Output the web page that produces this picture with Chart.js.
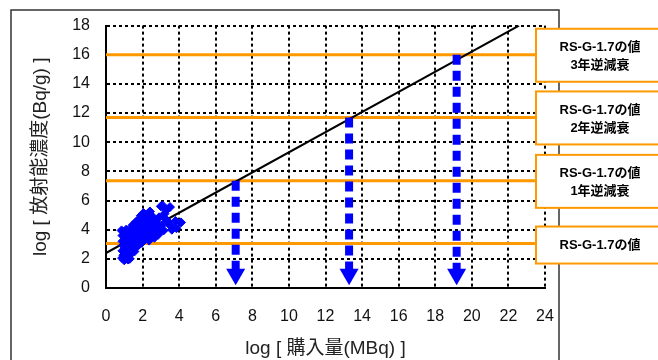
<!DOCTYPE html>
<html>
<head>
<meta charset="utf-8">
<script src="https://cdn.jsdelivr.net/npm/chart.js@4.4.1/dist/chart.umd.min.js"></script>
<style>
  html, body { margin: 0; padding: 0; background: #fff; }
</style>
</head>
<body>
<canvas id="c" width="658" height="360"></canvas>
<script>
// Axis ticks
const xTickValues = [0, 2, 4, 6, 8, 10, 12, 14, 16, 18, 20, 22, 24];
const yTickValues = [0, 2, 4, 6, 8, 10, 12, 14, 16, 18];

// Measured samples: log purchase amount vs log concentration
const sampleX = [0.85,0.9,0.9,0.95,0.9,0.95,1.0,0.88,1.05,1.0,
  1.1,1.15,1.2,1.25,1.3,1.3,1.35,1.4,1.4,1.45,
  1.5,1.5,1.55,1.6,1.6,1.65,1.7,1.7,1.75,1.8,
  1.8,1.85,1.9,1.9,1.95,2.0,2.0,2.05,2.05,2.1,
  2.1,2.15,2.2,2.2,2.25,2.3,2.3,2.35,2.4,2.4,
  2.45,2.5,2.55,2.6,2.6,2.7,2.75,2.8,2.85,2.9,
  3.0,3.05,3.1,3.15,3.2,3.3,3.4,3.5,3.5,3.6,
  3.8,3.85,4.1,1.55,1.25,1.1,1.45,1.75,2.25,1.95,
  1.65,1.35,1.05,1.2,2.65,2.35,2.5,1.85,2.95,3.25];
const sampleY = [3.95,3.6,3.2,2.9,2.55,2.25,1.9,2.05,3.4,3.0,
  2.7,3.8,3.3,2.2,2.0,3.0,3.55,4.1,2.45,3.25,
  3.9,2.8,4.35,3.55,3.05,4.55,4.0,3.3,2.9,4.7,
  3.75,4.25,3.45,4.95,3.1,4.5,4.05,3.65,5.15,3.35,
  4.75,4.3,3.9,5.0,3.55,4.55,4.15,3.25,5.25,3.8,
  4.4,4.0,3.6,4.7,4.25,3.85,4.5,4.1,3.65,4.85,
  5.6,4.3,5.65,3.95,5.1,5.35,4.55,5.55,4.3,4.0,
  4.6,4.1,4.5,2.5,3.6,4.0,4.3,4.45,4.85,3.8,
  3.75,2.75,2.45,1.95,3.45,4.35,4.95,3.2,4.0,4.75];

// Regression line end points
const fitX = [0, 22.58];
const fitY = [2.4, 18];

// RS-G-1.7 reference levels (with back-decay for 1, 2, 3 years)
const levelValues = [3.05, 7.35, 11.7, 16.0];
const levelLabels = [
  ['RS-G-1.7の値'],
  ['RS-G-1.7の値', '1年逆減衰'],
  ['RS-G-1.7の値', '2年逆減衰'],
  ['RS-G-1.7の値', '3年逆減衰']
];
const levelLineEnd = 23.5;

// Purchase amounts where the fit line meets the decayed levels
const arrowX = [7.09, 13.29, 19.17];
const arrowTop = [7.35, 11.7, 16.0];
const arrowTip = 0.95;

const BLUE = '#0000ff';
const ORANGE = '#ff9900';
const FONT = "'Liberation Sans', Arial, 'Noto Sans CJK JP', sans-serif";

const datasets = [];

levelValues.forEach(v => {
  datasets.push({
    data: [{x: 0, y: v}, {x: levelLineEnd, y: v}],
    showLine: true, borderColor: ORANGE, borderWidth: 3,
    pointRadius: 0, order: 4
  });
});

datasets.push({
  data: fitX.map((x, i) => ({x, y: fitY[i]})),
  showLine: true, borderColor: '#000', borderWidth: 2,
  pointRadius: 0, order: 3
});

arrowX.forEach((x, i) => {
  datasets.push({
    data: [{x, y: arrowTop[i]}, {x, y: arrowTip}],
    showLine: true, borderColor: BLUE, borderWidth: 8,
    borderDash: [10, 6], borderCapStyle: 'butt',
    pointStyle: 'triangle', rotation: 180,
    pointRadius: [0, 11], pointBorderWidth: 0,
    pointBackgroundColor: BLUE, order: 2
  });
});

datasets.push({
  data: sampleX.map((x, i) => ({x, y: sampleY[i]})),
  showLine: false, pointStyle: 'rectRot', pointRadius: 4.5,
  pointBackgroundColor: BLUE, pointBorderColor: BLUE, pointBorderWidth: 1,
  order: 1
});

// White page and the outer frame around the plot
const framePlugin = {
  id: 'frame',
  beforeDraw(chart) {
    const ctx = chart.ctx;
    ctx.save();
    ctx.fillStyle = '#fff';
    ctx.fillRect(0, 0, chart.width, chart.height);
    ctx.strokeStyle = '#333';
    ctx.lineWidth = 1.5;
    ctx.strokeRect(11, 10, 548, 380);
    ctx.restore();
  }
};

// Label boxes at the right end of each reference level
const levelBoxPlugin = {
  id: 'levelBoxes',
  afterDraw(chart) {
    const ctx = chart.ctx;
    const y = chart.scales.y;
    ctx.save();
    levelValues.forEach((v, i) => {
      const yl = y.getPixelForValue(v);
      const lines = levelLabels[i];
      const two = lines.length > 1;
      const top = two ? yl - 26 : yl - 17;
      const h = two ? 53 : 37;
      ctx.fillStyle = '#fff';
      ctx.fillRect(536, top, 140, h);
      ctx.strokeStyle = ORANGE;
      ctx.lineWidth = 2;
      ctx.strokeRect(536, top, 140, h);
      ctx.fillStyle = '#000';
      ctx.font = "bold 13px " + FONT;
      ctx.textAlign = 'center';
      ctx.textBaseline = 'middle';
      if (two) {
        ctx.fillText(lines[0], 600, yl - 7);
        ctx.fillText(lines[1], 600, yl + 10.5);
      } else {
        ctx.fillText(lines[0], 600, yl + 2);
      }
    });
    ctx.restore();
  }
};

new Chart(document.getElementById('c'), {
  type: 'scatter',
  data: { datasets },
  plugins: [framePlugin, levelBoxPlugin],
  options: {
    responsive: false,
    animation: false,
    layout: { padding: { left: 0, top: 24, right: 113, bottom: 0 } },
    plugins: { legend: { display: false }, tooltip: { enabled: false } },
    scales: {
      x: {
        type: 'linear', min: 0, max: 24,
        afterBuildTicks: s => { s.ticks = xTickValues.map(v => ({ value: v })); },
        afterFit: s => { s.height = 72; },
        ticks: { font: { family: FONT, size: 16 }, color: '#111', padding: 19 },
        grid: { color: '#000', lineWidth: 2, drawTicks: false },
        border: { color: '#000', width: 2, dash: [3, 3] },
        title: {
          display: true, text: 'log [ 購入量(MBq) ]', color: '#222',
          font: { family: FONT, size: 19 }, padding: { top: 0, bottom: 0 }
        }
      },
      y: {
        type: 'linear', min: 0, max: 18,
        afterBuildTicks: s => { s.ticks = yTickValues.map(v => ({ value: v })); },
        afterFit: s => { s.width = 106; },
        ticks: { font: { family: FONT, size: 16 }, color: '#111', padding: 16 },
        grid: { color: '#000', lineWidth: 2, drawTicks: false },
        border: { color: '#000', width: 2, dash: [3, 3] },
        title: {
          display: true, text: 'log [ 放射能濃度(Bq/g) ]', color: '#222',
          font: { family: FONT, size: 19 }, padding: { top: 29, bottom: 0 }
        }
      }
    }
  }
});
</script>
</body>
</html>
